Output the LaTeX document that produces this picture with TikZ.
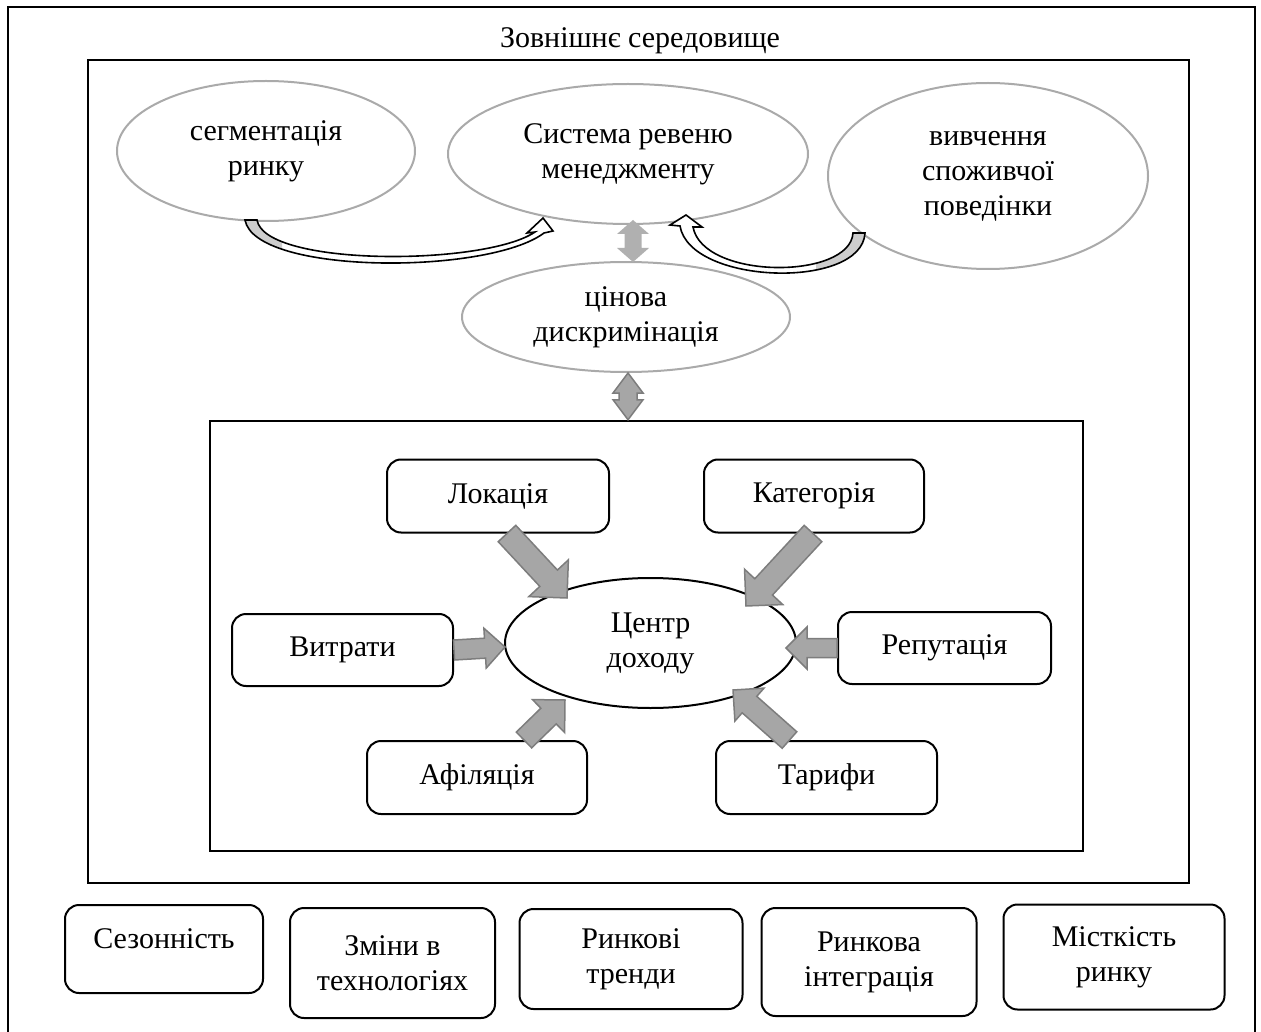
\documentclass[tikz,border=0pt]{standalone}
\usepackage{fontspec}
\setmainfont{Liberation Serif}
\usetikzlibrary{calc,shapes.geometric}

\definecolor{ringgray}{RGB}{170,170,170}
\definecolor{arrowfill}{RGB}{166,166,166}
\definecolor{arrowline}{RGB}{125,125,125}
\definecolor{lightarrow}{RGB}{176,176,176}
\definecolor{wedgegray}{RGB}{205,205,205}

% single block arrow: tail, tip, half shaft width, half head width, head length, style
\newcommand\blockarrow[6]{%
  \path ($(#2)!#5!(#1)$) coordinate (hb);
  \path[#6] ($(#1)!#3!-90:(#2)$) -- ($(hb)!#3!90:(#1)$) -- ($(hb)!#4!90:(#1)$)
    -- (#2) -- ($(hb)!#4!-90:(#1)$) -- ($(hb)!#3!-90:(#1)$)
    -- ($(#1)!#3!90:(#2)$) -- cycle;}

% double-headed block arrow: tip, tip, half shaft width, half head width, head length, style
\newcommand\twowayarrow[6]{%
  \path ($(#1)!#5!(#2)$) coordinate (ha) ($(#2)!#5!(#1)$) coordinate (hb);
  \path[#6] (#1) -- ($(ha)!#4!90:(#2)$) -- ($(ha)!#3!90:(#2)$)
    -- ($(hb)!#3!-90:(#1)$) -- ($(hb)!#4!-90:(#1)$) -- (#2)
    -- ($(hb)!#4!90:(#1)$) -- ($(hb)!#3!90:(#1)$)
    -- ($(ha)!#3!-90:(#2)$) -- ($(ha)!#4!-90:(#2)$) -- cycle;}

\begin{document}
\begin{tikzpicture}[x=1pt,y=-1pt,
  every node/.style={font=\fontsize{30}{35}\selectfont, align=center, inner sep=0pt},
  frame/.style={draw=black, line width=2.5pt},
  oval/.style={ellipse, draw=ringgray, line width=2pt, fill=white},
  hub/.style={ellipse, draw=black, line width=2pt, fill=white},
  tile/.style={rectangle, draw=black, line width=2pt, rounded corners=14pt, fill=white},
  fatarrow/.style={fill=arrowfill, draw=arrowline, line width=1.5pt, line join=miter},
  paletwoway/.style={fill=lightarrow},
  band/.style={draw=black, line width=1.6pt, line join=miter}]

\useasboundingbox (0,0) rectangle (1261,1032);

% outer environment and the firm's frame
\draw[frame] (8,1045) -- (8,7) -- (1255,7) -- (1255,1045);
\node (env) at (640,41) {Зовнішнє середовище};
\draw[frame] (88,60) rectangle (1189,883);

% upper ovals
\node[oval, minimum width=298pt, minimum height=140pt] (seg) at (266,151) {сегментація\\ринку};
\node[oval, minimum width=360pt, minimum height=140pt] (rms) at (628,154) {Система ревеню\\менеджменту};
\node[oval, minimum width=320pt, minimum height=186pt] (cons) at (988,176) {вивчення\\споживчої\\поведінки};
\node[oval, minimum width=328pt, minimum height=110pt] (disc) at (626,317) {цінова\\дискримінація};

% curved ribbon arrows into the revenue management oval
\path[save path=\leftribbon]
  (245,220) .. controls (255,275) and (488,275) .. (544,233)
  -- (553,231) -- (543,218) -- (527,233) -- (535,232)
  .. controls (485,266) and (265,267) .. (257,220) -- cycle;
\fill[white, use path=\leftribbon];
\begin{scope}
  \clip (230,210) rectangle (282,275);
  \fill[wedgegray, use path=\leftribbon];
\end{scope}
\path[band, use path=\leftribbon];

\path[save path=\rightribbon]
  (865,233) .. controls (862,290) and (690,285) .. (680,226)
  -- (670,225) -- (686,215) -- (702,227) -- (693,227)
  .. controls (703,280) and (850,280) .. (853,233) -- cycle;
\fill[white, use path=\rightribbon];
\begin{scope}
  \clip (816,210) rectangle (880,290);
  \fill[wedgegray, use path=\rightribbon];
\end{scope}
\path[band, use path=\rightribbon];

% inner frame with the revenue centre and its factors
\node[rectangle, draw=black, line width=2.5pt, minimum width=873pt, minimum height=430pt] (core) at (646.5,636) {};

\node[hub, minimum width=291pt, minimum height=130pt] (centre) at (650.5,643) {Центр\\доходу};
\node[tile, minimum width=222pt, minimum height=73pt] (loc) at (498,496) {Локація};
\node[tile, minimum width=220pt, minimum height=73pt] (cat) at (814,496) {Категорія};
\node[tile, minimum width=221pt, minimum height=72pt] (cost) at (342.5,650) {Витрати};
\node[tile, minimum width=213pt, minimum height=72pt] (rep) at (944.5,648) {Репутація};
\node[tile, minimum width=220pt, minimum height=73pt] (aff) at (477,777.5) {Афіляція};
\node[tile, minimum width=221pt, minimum height=73pt] (tar) at (826.5,777.5) {Тарифи};

% ends of the factor arrows
\coordinate (locA) at ($(loc.south)+(9,0)$);
\coordinate (locB) at (567,598);
\coordinate (catA) at ($(cat.south)+(-1,0)$);
\coordinate (catB) at (746,606);
\coordinate (costA) at (cost.east);
\coordinate (costB) at (505,647);
\coordinate (repA) at (rep.west);
\coordinate (repB) at (786,648);
\coordinate (affA) at ($(aff.north)+(47,0)$);
\coordinate (affB) at (565,700);
\coordinate (tarA) at ($(tar.north)+(-37,0)$);
\coordinate (tarB) at (733,690);

\blockarrow{locA}{locB}{12pt}{27pt}{27pt}{fatarrow}
\blockarrow{catA}{catB}{12pt}{26pt}{26pt}{fatarrow}
\blockarrow{costA}{costB}{10pt}{20pt}{20pt}{fatarrow}
\blockarrow{repA}{repB}{9.5pt}{21pt}{21pt}{fatarrow}
\blockarrow{affA}{affB}{11pt}{23pt}{23pt}{fatarrow}
\blockarrow{tarA}{tarB}{11pt}{22pt}{22pt}{fatarrow}

% two-way links along the vertical axis
\coordinate (rmsLow) at ($(rms.south)+(5,-5)$);
\coordinate (discHigh) at ($(disc.north)+(7,1)$);
\twowayarrow{rmsLow}{discHigh}{8.5pt}{16pt}{14pt}{paletwoway}
\coordinate (discLow) at ($(disc.south)+(2,0)$);
\coordinate (coreHigh) at ($(core.north)+(-18.5,0)$);
\twowayarrow{discLow}{coreHigh}{9pt}{15pt}{20pt}{fatarrow}

% external factors
\node[tile, minimum width=198pt, minimum height=88pt, text depth=20pt] (season) at (164,949) {Сезонність};
\node[tile, minimum width=205pt, minimum height=110pt] (tech) at (392.5,963) {Зміни в\\технологіях};
\node[tile, minimum width=223pt, minimum height=100pt] (trend) at (631,959) {Ринкові\\тренди};
\node[tile, minimum width=215pt, minimum height=108pt] (integ) at (869,962) {Ринкова\\інтеграція};
\node[tile, minimum width=221pt, minimum height=105pt] (cap) at (1114,957) {Місткість\\ринку};
\end{tikzpicture}
\end{document}
